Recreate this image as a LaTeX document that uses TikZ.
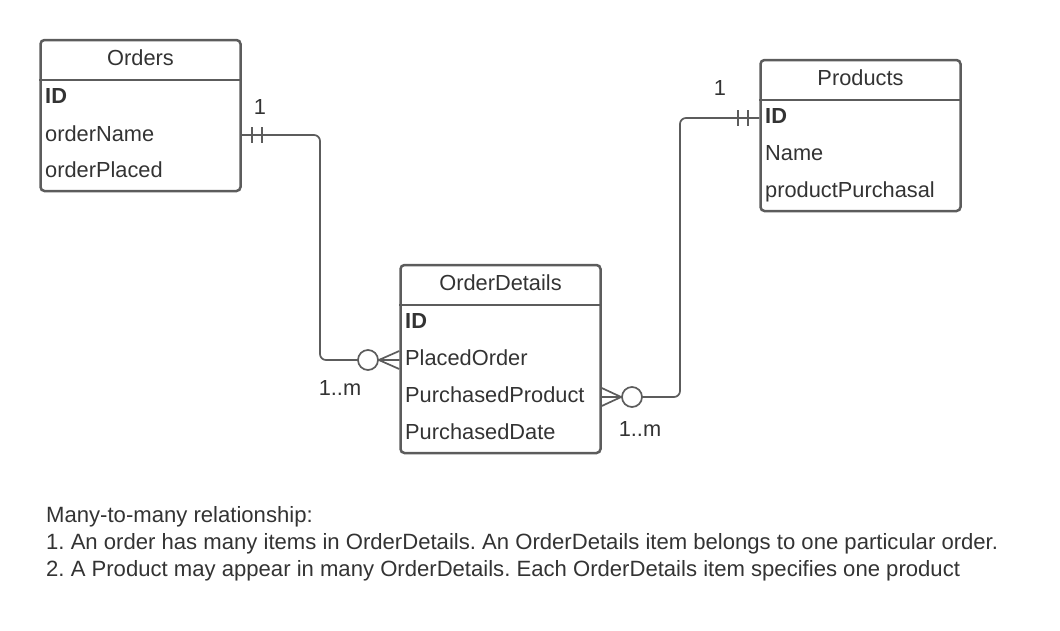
\documentclass[tikz,border=0pt]{standalone}
\usepackage{fontspec}
\setmainfont{Liberation Sans}
\usepackage{tikz}
\definecolor{boxline}{HTML}{5C5C5C}
\definecolor{ink}{HTML}{333333}
\frenchspacing

\tikzset{
  entity/.style={draw=boxline, line width=2.5pt, rounded corners=4pt,
    minimum width=200pt, inner sep=0pt},
  title/.style={anchor=base, text=ink, inner sep=0pt, font=\fontsize{21.8}{25}\selectfont},
  field/.style={anchor=base west, text=ink, inner sep=0pt, font=\fontsize{21.8}{25}\selectfont},
  rel/.style={draw=boxline, line width=1.7pt, rounded corners=6pt},
  endmark/.style={draw=boxline, line width=1.7pt},
  mult/.style={anchor=base, text=ink, inner sep=0pt, font=\fontsize{21.8}{25}\selectfont},
  note/.style={anchor=base west, text=ink, inner sep=0pt, font=\fontsize{22.1}{25}\selectfont},
}

\begin{document}
\begin{tikzpicture}[x=1pt, y=-1pt]
  \useasboundingbox (0,0) rectangle (1060,630);

  % Orders
  \node[entity, minimum height=151pt] (orders) at (140.5,115.5) {};
  \draw[boxline, line width=2.5pt] ([yshift=-41pt]orders.north west) -- ([yshift=-41pt]orders.north east);
  \node[title] (ordersT) at (140.5,65) {Orders};
  \node[field] (ordersID) at (45,103) {\textbf{ID}};
  \node[field] (ordersName) at (45,141) {orderName};
  \node[field] (ordersPlaced) at (45,177) {orderPlaced};

  % Products
  \node[entity, minimum height=151pt] (products) at (860.5,135.5) {};
  \draw[boxline, line width=2.5pt] ([yshift=-41pt]products.north west) -- ([yshift=-41pt]products.north east);
  \node[title] (productsT) at (860.5,85) {Products};
  \node[field] (productsID) at (765,123) {\textbf{ID}};
  \node[field] (productsName) at (765,160) {Name};
  \node[field] (productsPurch) at (765,197) {productPurchasal};

  % OrderDetails
  \node[entity, minimum height=188pt] (details) at (500.5,359) {};
  \draw[boxline, line width=2.5pt] ([yshift=-41pt]details.north west) -- ([yshift=-41pt]details.north east);
  \node[title] (detailsT) at (500.5,290) {OrderDetails};
  \node[field] (detailsID) at (405,328) {\textbf{ID}};
  \node[field] (detailsOrder) at (405,365) {PlacedOrder};
  \node[field] (detailsProduct) at (405,402) {PurchasedProduct};
  \node[field] (detailsDate) at (405,439) {PurchasedDate};

  % relation Orders -- OrderDetails
  \coordinate (o1) at (orders.east |- 0,135);
  \coordinate (d1) at (details.west |- 0,360);
  \draw[rel] (o1) -- (320,135) -- (320,360) -- (d1);
  \draw[endmark] (252,127) -- (252,143) (262,127) -- (262,143);
  \node[endmark, circle, fill=white, minimum size=20pt, inner sep=0pt] (c1) at (368,360) {};
  \draw[endmark] (c1.east) -- ([yshift=9pt]d1) (c1.east) -- (d1) (c1.east) -- ([yshift=-9pt]d1);
  \node[mult] (m1) at (260,114) {1};
  \node[mult] (m2) at (340,395) {1..m};

  % relation OrderDetails -- Products
  \coordinate (d2) at (details.east |- 0,397);
  \coordinate (p1) at (products.west |- 0,118);
  \draw[rel] (d2) -- (680,397) -- (680,118) -- (p1);
  \draw[endmark] (738,110) -- (738,126) (748,110) -- (748,126);
  \node[endmark, circle, fill=white, minimum size=20pt, inner sep=0pt] (c2) at (632,397) {};
  \draw[endmark] (c2.west) -- ([yshift=9pt]d2) (c2.west) -- (d2) (c2.west) -- ([yshift=-9pt]d2);
  \node[mult] (m3) at (720,95) {1};
  \node[mult] (m4) at (640,436) {1..m};

  % notes
  \node[note] (n1) at (46,522) {Many-to-many relationship:};
  \node[note] (n2) at (46,549) {1. An order has many items in OrderDetails. An OrderDetails item belongs to one particular order.};
  \node[note] (n3) at (46,576) {2. A Product may appear in many OrderDetails. Each OrderDetails item specifies one product};
\end{tikzpicture}
\end{document}
